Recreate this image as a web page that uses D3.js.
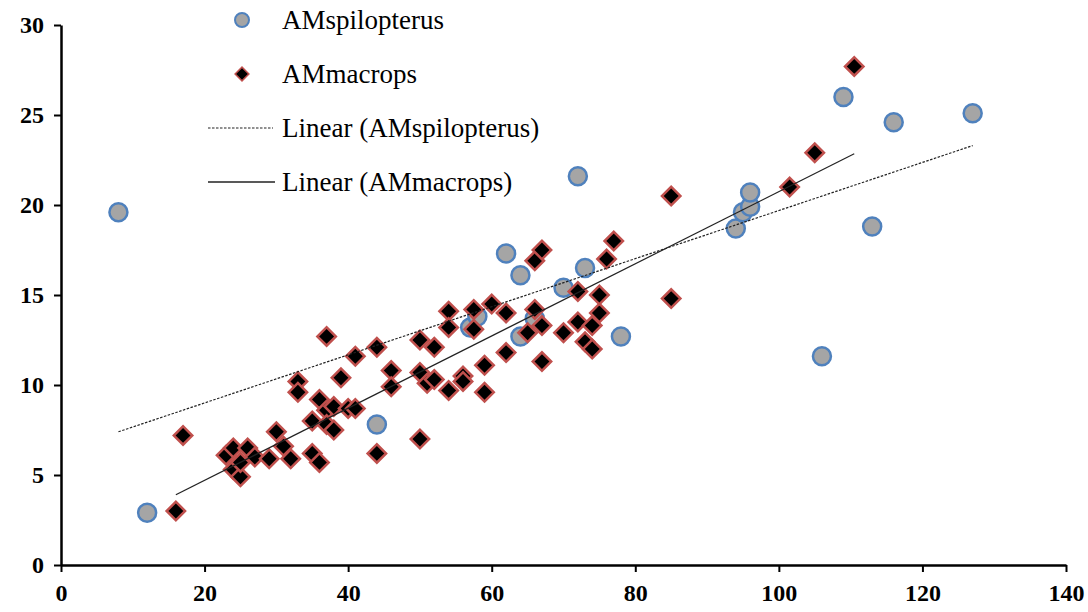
<!DOCTYPE html>
<html>
<head>
<meta charset="utf-8">
<script src="https://cdn.jsdelivr.net/npm/d3@7"></script>
<style>
  html, body { margin: 0; padding: 0; background: #fff; }
  svg { display: block; }
  .serif { font-family: "Liberation Serif", "DejaVu Serif", serif; }
</style>
</head>
<body>
<svg id="chart" width="1088" height="612"></svg>
<script>
// ---- Data ----
const spilopterusX = [8, 12, 44, 57, 58, 62, 64, 64, 66, 70, 72, 73, 78, 94, 95, 96, 96, 106, 109, 113, 116, 127];
const spilopterusY = [19.6, 2.9, 7.8, 13.2, 13.8, 17.3, 16.1, 12.7, 13.7, 15.4, 21.6, 16.5, 12.7, 18.7, 19.6, 19.9, 20.7, 11.6, 26.0, 18.8, 24.6, 25.1];

const macropsX = [16, 17, 23, 24, 24, 25, 25, 26, 27, 29, 30, 31, 32, 33, 33, 35, 35, 36, 36, 37, 37, 37, 38, 38, 39, 40, 41, 41, 44, 44, 46, 46, 50, 50, 50, 51, 52, 52, 54, 54, 54, 56, 56, 57.5, 57.5, 59, 59, 60, 62, 62, 65, 66, 66, 67, 67, 67, 70, 72, 72, 73, 74, 74, 75, 75, 76, 77, 85, 85, 101.5, 105, 110.5];
const macropsY = [3.0, 7.2, 6.1, 6.5, 5.3, 4.9, 5.7, 6.5, 6.0, 5.9, 7.4, 6.6, 5.9, 10.2, 9.6, 6.2, 8.0, 5.7, 9.2, 8.6, 7.8, 12.7, 8.8, 7.5, 10.4, 8.7, 8.7, 11.6, 12.1, 6.2, 10.8, 9.9, 12.5, 10.7, 7.0, 10.1, 12.1, 10.3, 14.1, 13.2, 9.7, 10.5, 10.2, 14.2, 13.1, 11.1, 9.6, 14.5, 14.0, 11.8, 12.9, 14.2, 16.9, 17.5, 13.3, 11.3, 12.9, 15.2, 13.5, 12.4, 13.3, 12.0, 14.0, 15.0, 17.0, 18.0, 20.5, 14.8, 21.0, 22.9, 27.7];

// Linear trend lines: [x, y] at each end
const trendSpilopterus = [[8, 7.4], [127, 23.3]];
const trendMacrops = [[16, 3.9], [110.5, 22.85]];

const xTicks = [0, 20, 40, 60, 80, 100, 120, 140];
const yTicks = [0, 5, 10, 15, 20, 25, 30];
const seriesNames = ["AMspilopterus", "AMmacrops", "Linear (AMspilopterus)", "Linear (AMmacrops)"];

// ---- Layout ----
const svg = d3.select("#chart");
const mLeft = 61, mRight = 1066, mTop = 25, mBottom = 565;

const x = d3.scaleLinear().domain([0, 140]).range([mLeft, mRight]);
const y = d3.scaleLinear().domain([0, 30]).range([mBottom, mTop]);

const circleFill = "#a5a5a5", circleStroke = "#4f81bd";
const diamondFill = "#000000", diamondStroke = "#c0504d";

// ---- Axes ----
const xAxis = d3.axisBottom(x).tickValues(xTicks).tickSize(7).tickSizeOuter(0).tickPadding(12);
const yAxis = d3.axisLeft(y).tickValues(yTicks).tickSize(7).tickSizeOuter(0).tickPadding(10);

const gx = svg.append("g").attr("transform", `translate(0,${mBottom})`).call(xAxis);
const gy = svg.append("g").attr("transform", `translate(${mLeft},0)`).call(yAxis);
[gx, gy].forEach(g => {
  g.attr("font-family", null).attr("font-size", null).attr("class", "serif");
  g.select(".domain").attr("stroke", "#000").attr("stroke-width", 2.5);
  g.selectAll(".tick line").attr("stroke", "#000").attr("stroke-width", 2);
  g.selectAll(".tick text")
    .attr("fill", "#000")
    .attr("font-weight", "bold")
    .attr("font-size", 24);
});
gx.selectAll(".tick text").attr("dy", "0.71em");

// ---- Points ----
svg.append("g").selectAll("circle")
  .data(spilopterusX.map((v, i) => [v, spilopterusY[i]]))
  .join("circle")
  .attr("cx", d => x(d[0])).attr("cy", d => y(d[1])).attr("r", 9)
  .attr("fill", circleFill).attr("stroke", circleStroke).attr("stroke-width", 2.5);

const diamond = d3.symbol().type(d3.symbolSquare).size(170);
svg.append("g").selectAll("path")
  .data(macropsX.map((v, i) => [v, macropsY[i]]))
  .join("path")
  .attr("d", diamond)
  .attr("transform", d => `translate(${x(d[0])},${y(d[1])}) rotate(45)`)
  .attr("fill", diamondFill).attr("stroke", diamondStroke).attr("stroke-width", 2.5);

// ---- Trend lines ----
const lineGen = d3.line().x(d => x(d[0])).y(d => y(d[1]));
svg.append("path").datum(trendSpilopterus)
  .attr("d", lineGen).attr("fill", "none").attr("stroke", "#222")
  .attr("stroke-width", 1.2).attr("stroke-dasharray", "2.5,1.5");
svg.append("path").datum(trendMacrops)
  .attr("d", lineGen).attr("fill", "none").attr("stroke", "#222")
  .attr("stroke-width", 1.2);

// ---- Legend ----
const legend = svg.append("g").attr("class", "serif");
const rows = [20, 74, 128, 182];

legend.append("circle").attr("cx", 242).attr("cy", rows[0]).attr("r", 7)
  .attr("fill", circleFill).attr("stroke", circleStroke).attr("stroke-width", 2);
legend.append("path").attr("d", d3.symbol().type(d3.symbolSquare).size(95))
  .attr("transform", `translate(242,${rows[1]}) rotate(45)`)
  .attr("fill", diamondFill).attr("stroke", diamondStroke).attr("stroke-width", 1.5);
legend.append("line").attr("x1", 208).attr("x2", 273).attr("y1", rows[2]).attr("y2", rows[2])
  .attr("stroke", "#222").attr("stroke-width", 1.2).attr("stroke-dasharray", "2.5,1.5");
legend.append("line").attr("x1", 208).attr("x2", 275).attr("y1", rows[3]).attr("y2", rows[3])
  .attr("stroke", "#222").attr("stroke-width", 1.5);

seriesNames.forEach((name, i) => {
  legend.append("text").attr("x", 282).attr("y", rows[i] + 9)
    .attr("font-size", 27).attr("fill", "#000").text(name);
});
</script>
</body>
</html>
